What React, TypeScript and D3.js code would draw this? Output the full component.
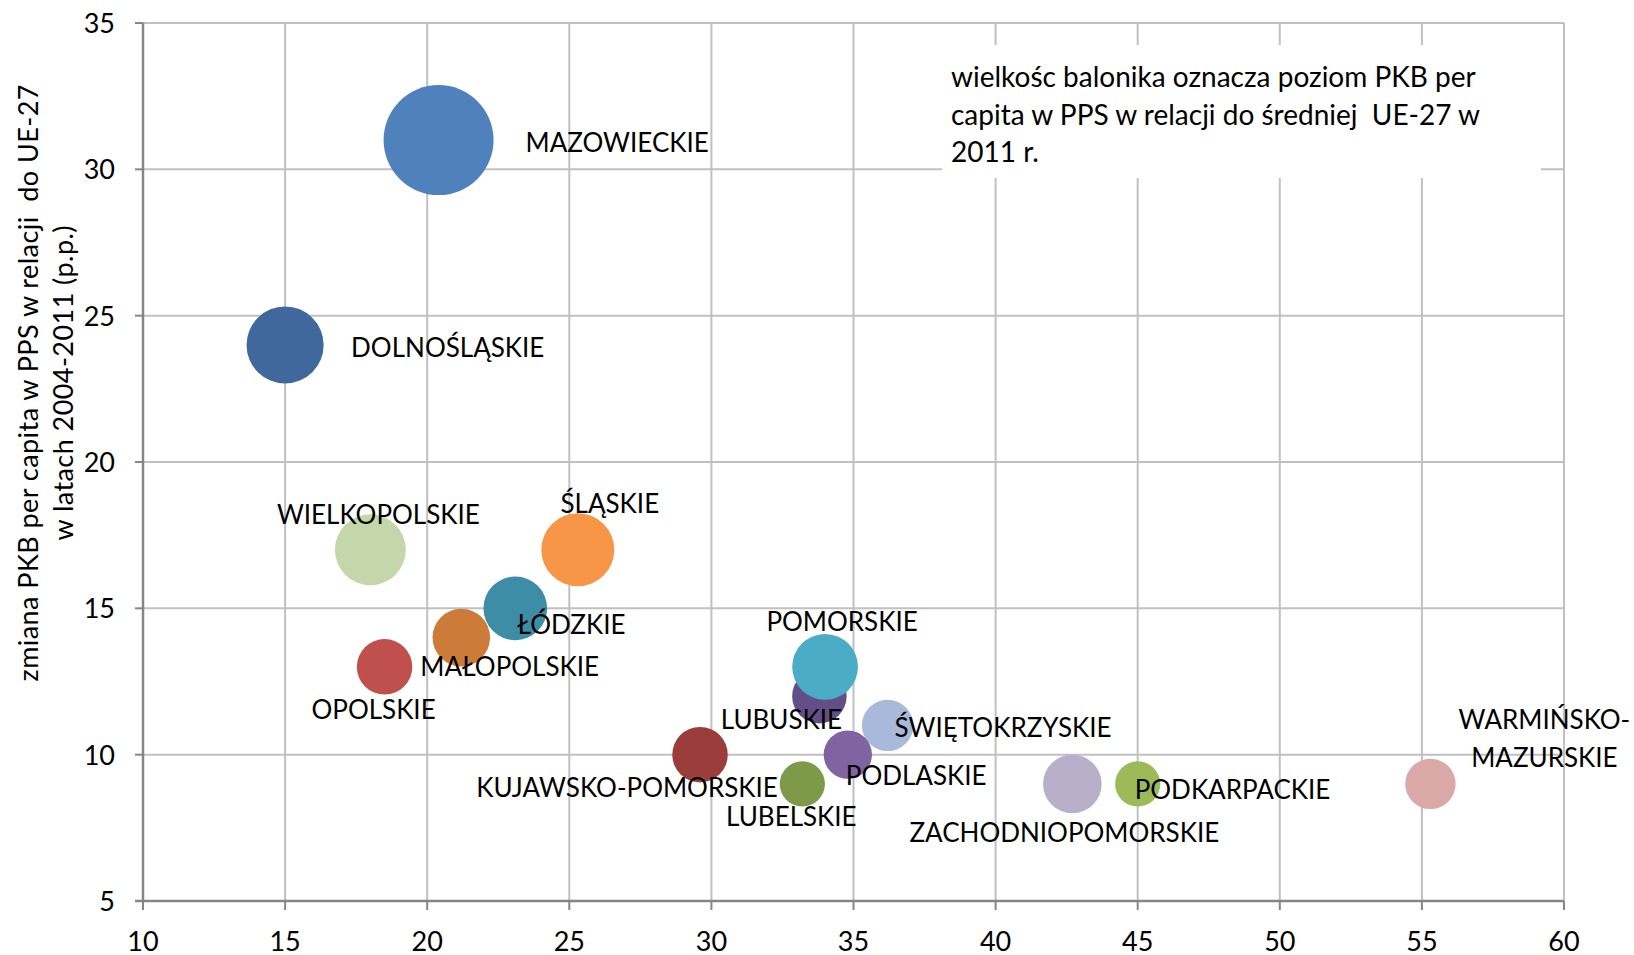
import React, { useRef, useEffect } from "react";
import * as d3 from "d3";

// regions (drawing order: later ones sit on top)
const regions = [
  "MAZOWIECKIE",
  "DOLNOŚLĄSKIE",
  "WIELKOPOLSKIE",
  "ŚLĄSKIE",
  "ŁÓDZKIE",
  "MAŁOPOLSKIE",
  "OPOLSKIE",
  "KUJAWSKO-POMORSKIE",
  "LUBUSKIE",
  "POMORSKIE",
  "ŚWIĘTOKRZYSKIE",
  "PODLASKIE",
  "LUBELSKIE",
  "ZACHODNIOPOMORSKIE",
  "PODKARPACKIE",
  "WARMIŃSKO-MAZURSKIE",
];

const xValues = [20.4, 15, 18, 25.3, 23.1, 21.2, 18.5, 29.6, 33.8, 34, 36.2, 34.8, 33.2, 42.7, 45, 55.3];
// zmiana PKB per capita w PPS w relacji do UE-27, 2004-2011 (p.p.)
const yValues = [31, 24, 17, 17, 15, 14, 13, 10, 12, 13, 11, 10, 9, 9, 9, 9];
// PKB per capita w PPS, UE-27 = 100, 2011 (bubble size)
const gdpLevel = [107, 75, 69, 71, 62, 56, 54, 54, 53, 64, 50, 47, 44, 57, 44, 49];

const colors = [
  "#4F81BD", "#41689C", "#C4D6AA", "#F79646", "#3C8DA5", "#CD7B38",
  "#C0504D", "#9B3D3B", "#644E87", "#4BACC6", "#A9B9D9", "#8064A2",
  "#7D9A48", "#B9AFCB", "#9BBB59", "#DBA8A8",
];

const xTicks = [10, 15, 20, 25, 30, 35, 40, 45, 50, 55, 60];
const yTicks = [5, 10, 15, 20, 25, 30, 35];

const yTitle = ["zmiana PKB per capita w PPS w relacji  do UE-27", "w latach 2004-2011 (p.p.)"];
const note = [
  "wielkośc balonika oznacza poziom PKB per",
  "capita w PPS w relacji do średniej  UE-27 w",
  "2011 r.",
];

// label offsets from bubble centre (px)
const labelLayout = {
  "MAZOWIECKIE": { dx: 87, dy: 2, anchor: "start" },
  "DOLNOŚLĄSKIE": { dx: 66, dy: 2, anchor: "start" },
  "WIELKOPOLSKIE": { dx: 8, dy: -36, anchor: "middle" },
  "ŚLĄSKIE": { dx: 32, dy: -47, anchor: "middle" },
  "ŁÓDZKIE": { dx: 2, dy: 16, anchor: "start" },
  "MAŁOPOLSKIE": { dx: -41, dy: 28, anchor: "start" },
  "OPOLSKIE": { dx: -11, dy: 42, anchor: "middle" },
  "KUJAWSKO-POMORSKIE": { dx: -73, dy: 32, anchor: "middle" },
  "LUBUSKIE": { dx: -38, dy: 23, anchor: "middle" },
  "POMORSKIE": { dx: 17, dy: -46, anchor: "middle" },
  "ŚWIĘTOKRZYSKIE": { dx: 7, dy: 2, anchor: "start" },
  "PODLASKIE": { dx: -2, dy: 20, anchor: "start" },
  "LUBELSKIE": { dx: -11, dy: 32, anchor: "middle" },
  "ZACHODNIOPOMORSKIE": { dx: -8, dy: 48, anchor: "middle" },
  "PODKARPACKIE": { dx: -3, dy: 5, anchor: "start" },
  "WARMIŃSKO-MAZURSKIE": { dx: 114, dy: -65, anchor: "middle", wrap: true },
};

const FONT = "Lato, Carlito, Calibri, sans-serif";

const BubbleChart = () => {
  const ref = useRef(null);

  useEffect(() => {
    const svg = d3.select(ref.current);
    svg.selectAll("*").remove();

    const x = d3.scaleLinear().domain([10, 60]).range([143, 1564]);
    const y = d3.scaleLinear().domain([5, 35]).range([901, 23]);
    const r = d3.scaleLinear().domain([0, d3.max(gdpLevel)]).range([0, 55]);

    const data = regions.map((name, i) => ({
      name,
      x: xValues[i],
      y: yValues[i],
      size: gdpLevel[i],
      color: colors[i],
    }));

    // gridlines
    svg
      .append("g")
      .selectAll("line")
      .data(xTicks.slice(1))
      .join("line")
      .attr("x1", (d) => x(d))
      .attr("x2", (d) => x(d))
      .attr("y1", y(35))
      .attr("y2", y(5))
      .attr("stroke", "#C0C0C0")
      .attr("stroke-width", 2);

    svg
      .append("g")
      .selectAll("line")
      .data(yTicks.slice(1))
      .join("line")
      .attr("x1", x(10))
      .attr("x2", x(60))
      .attr("y1", (d) => y(d))
      .attr("y2", (d) => y(d))
      .attr("stroke", "#C0C0C0")
      .attr("stroke-width", 2);

    // note box (hides gridlines behind it)
    const noteG = svg.append("g");
    noteG
      .append("rect")
      .attr("x", 942)
      .attr("y", 45)
      .attr("width", 599)
      .attr("height", 133)
      .attr("fill", "#fff");
    noteG
      .selectAll("text")
      .data(note)
      .join("text")
      .attr("x", 951)
      .attr("y", (d, i) => 87 + i * 37.5)
      .attr("font-family", FONT)
      .attr("font-size", 28)
      .style("white-space", "pre")
      .text((d) => d);

    // axes
    const axisColor = "#868686";
    svg
      .append("line")
      .attr("x1", x(10))
      .attr("x2", x(10))
      .attr("y1", y(35))
      .attr("y2", y(5))
      .attr("stroke", axisColor)
      .attr("stroke-width", 2.5);
    svg
      .append("line")
      .attr("x1", x(10) - 8)
      .attr("x2", x(60))
      .attr("y1", y(5))
      .attr("y2", y(5))
      .attr("stroke", axisColor)
      .attr("stroke-width", 2.5);

    svg
      .append("g")
      .selectAll("line")
      .data(yTicks)
      .join("line")
      .attr("x1", x(10) - 8)
      .attr("x2", x(10))
      .attr("y1", (d) => y(d))
      .attr("y2", (d) => y(d))
      .attr("stroke", axisColor)
      .attr("stroke-width", 2);

    svg
      .append("g")
      .selectAll("line")
      .data(xTicks)
      .join("line")
      .attr("x1", (d) => x(d))
      .attr("x2", (d) => x(d))
      .attr("y1", y(5))
      .attr("y2", y(5) + 9)
      .attr("stroke", axisColor)
      .attr("stroke-width", 2);

    // tick labels
    svg
      .append("g")
      .selectAll("text")
      .data(yTicks)
      .join("text")
      .attr("x", 115)
      .attr("y", (d) => y(d) + 10)
      .attr("text-anchor", "end")
      .attr("font-family", FONT)
      .attr("font-size", 27)
      .text((d) => d);

    svg
      .append("g")
      .selectAll("text")
      .data(xTicks)
      .join("text")
      .attr("x", (d) => x(d))
      .attr("y", 951)
      .attr("text-anchor", "middle")
      .attr("font-family", FONT)
      .attr("font-size", 27)
      .text((d) => d);

    // y axis title
    const titleLen = [597, 315];
    svg
      .append("g")
      .selectAll("text")
      .data(yTitle)
      .join("text")
      .attr("transform", (d, i) => `translate(${i === 0 ? 38 : 73},383) rotate(-90)`)
      .attr("text-anchor", "middle")
      .attr("font-family", FONT)
      .attr("font-size", 27)
      .attr("textLength", (d, i) => titleLen[i])
      .attr("lengthAdjust", "spacing")
      .style("white-space", "pre")
      .text((d) => d);

    // bubbles
    svg
      .append("g")
      .selectAll("circle")
      .data(data)
      .join("circle")
      .attr("cx", (d) => x(d.x))
      .attr("cy", (d) => y(d.y))
      .attr("r", (d) => r(d.size))
      .attr("fill", (d) => d.color);

    // labels
    const labels = svg.append("g").attr("font-family", FONT).attr("font-size", 26);
    data.forEach((d) => {
      const l = labelLayout[d.name];
      const lines = l.wrap ? [d.name.split("-")[0] + "-", d.name.split("-")[1]] : [d.name];
      lines.forEach((line, j) => {
        labels
          .append("text")
          .attr("x", x(d.x) + l.dx)
          .attr("y", y(d.y) + l.dy + 10 + j * 38)
          .attr("text-anchor", l.anchor)
          .attr("fill", "#000")
          .text(line);
      });
    });
  }, []);

  return (
    <svg
      ref={ref}
      width={1634}
      height={955}
      style={{ position: "absolute", left: 0, top: 0, background: "#fff" }}
    ></svg>
  );
};

export default function App() {
  return <BubbleChart />;
}
